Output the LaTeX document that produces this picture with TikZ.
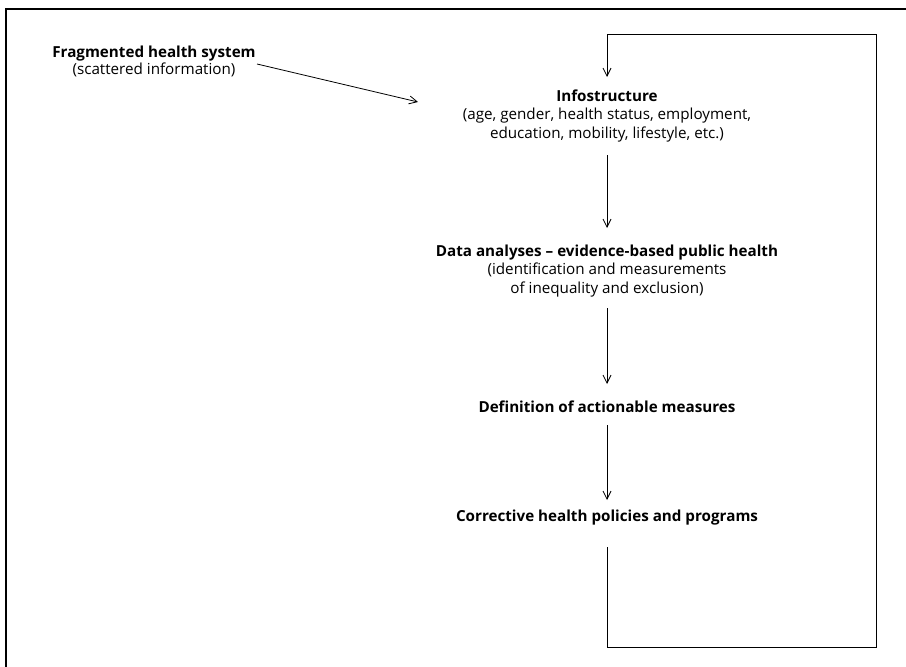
\documentclass[tikz,border=0pt]{standalone}
\usepackage{fontspec}
\setmainfont{Open Sans}[Ligatures=NoCommon]
\usetikzlibrary{arrows.meta}
\begin{document}
\begin{tikzpicture}[x=1pt,y=-1pt,
  txt/.style={align=center,inner sep=0pt,font=\fontsize{15.2}{18.8}\selectfont},
  conn/.style={line width=0.8pt,-{Straight Barb[length=8pt,width=8pt,line width=0.8pt]}}]
\useasboundingbox (0,0) rectangle (906,667);
\draw[line width=1.2pt] (6,667) -- (6,9) -- (906,9);
\node[txt,font=\fontsize{15.2}{17.8}\selectfont] (frag) at (154,61.5) {\textbf{Fragmented health system}\\(scattered information)};
\node[txt] (info) at (607,116) {\textbf{Infostructure}\\(age, gender, health status, employment,\\education, mobility, lifestyle, etc.)};
\node[txt] (data) at (607,271) {\textbf{Data analyses – evidence-based public health}\\(identification and measurements\\of inequality and exclusion)};
\node[txt] (def) at (607,407) {\textbf{Definition of actionable measures}};
\node[txt] (corr) at (607,518) {\textbf{Corrective health policies and programs}};
\coordinate (fs) at (257,64);
\coordinate (fe) at (418,102);
\coordinate (a1s) at (607,155);
\coordinate (a1e) at (607,228);
\coordinate (a2s) at (607,308);
\coordinate (a2e) at (607,384);
\coordinate (a3s) at (607,425);
\coordinate (a3e) at (607,500);
\coordinate (ltop) at (607,77);
\coordinate (lbot) at (607,547);
\coordinate (c1) at (607,647);
\coordinate (c2) at (876,647);
\coordinate (c3) at (876,34);
\coordinate (c4) at (607,34);
\draw[conn] (fs) -- (fe);
\draw[conn] (a1s) -- (a1e);
\draw[conn] (a2s) -- (a2e);
\draw[conn] (a3s) -- (a3e);
\draw[conn] (lbot) -- (c1) -- (c2) -- (c3) -- (c4) -- (ltop);
\end{tikzpicture}
\end{document}
